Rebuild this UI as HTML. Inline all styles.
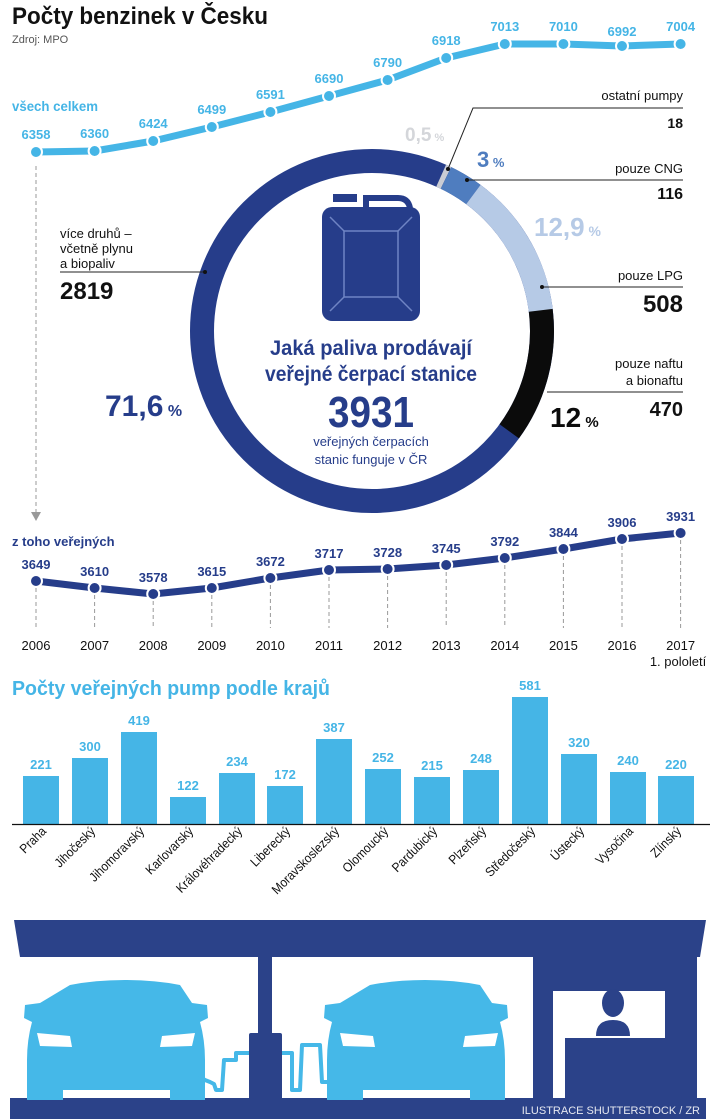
<!DOCTYPE html>
<html><head><meta charset="utf-8"><style>
html,body{margin:0;padding:0;background:#fff;}
svg{display:block;font-family:"Liberation Sans",sans-serif;}
</style></head><body>
<svg width="722" height="1119" viewBox="0 0 722 1119" xmlns="http://www.w3.org/2000/svg">
<rect width="722" height="1119" fill="#fff"/>
<text x="12" y="24" font-size="24" font-weight="bold" fill="#111" textLength="256" lengthAdjust="spacingAndGlyphs">Počty benzinek v Česku</text>
<text x="12" y="43" font-size="11" fill="#555">Zdroj: MPO</text>

<text x="12" y="111" font-size="14" font-weight="bold" fill="#45b5e6" textLength="86" lengthAdjust="spacingAndGlyphs">všech celkem</text>
<polyline points="36,152 94.6,151 153.2,141 211.8,127 270.4,112 329,96 387.6,80 446.2,58 504.8,44 563.4,44 622,46 680.6,44" fill="none" stroke="#45b5e6" stroke-width="7" stroke-linejoin="round"/>
<g fill="#45b5e6" stroke="#fff" stroke-width="2">
<circle cx="36" cy="152" r="6"/><circle cx="94.6" cy="151" r="6"/><circle cx="153.2" cy="141" r="6"/><circle cx="211.8" cy="127" r="6"/><circle cx="270.4" cy="112" r="6"/><circle cx="329" cy="96" r="6"/><circle cx="387.6" cy="80" r="6"/><circle cx="446.2" cy="58" r="6"/><circle cx="504.8" cy="44" r="6"/><circle cx="563.4" cy="44" r="6"/><circle cx="622" cy="46" r="6"/><circle cx="680.6" cy="44" r="6"/>
</g>
<g font-size="13" font-weight="bold" fill="#45b5e6" text-anchor="middle">
<text x="36" y="139">6358</text><text x="94.6" y="138">6360</text><text x="153.2" y="128">6424</text><text x="211.8" y="114">6499</text><text x="270.4" y="99">6591</text><text x="329" y="83">6690</text><text x="387.6" y="67">6790</text><text x="446.2" y="45">6918</text><text x="504.8" y="31">7013</text><text x="563.4" y="31">7010</text><text x="622" y="36">6992</text><text x="680.6" y="31">7004</text>
</g>

<line x1="36" y1="166" x2="36" y2="512" stroke="#999" stroke-width="1" stroke-dasharray="4,3"/>
<polygon points="31,512 41,512 36,521" fill="#999"/>

<circle cx="372" cy="331" r="170" fill="none" stroke="#263d8a" stroke-width="24"/>
<g fill="none" stroke-width="24" transform="rotate(-90 372 331)">
<circle cx="372" cy="331" r="170" stroke="#c9ccd4" stroke-dasharray="5.3 2000" transform="rotate(24 372 331)"/>
<circle cx="372" cy="331" r="170" stroke="#4f7dbf" stroke-dasharray="32 2000" transform="rotate(25.8 372 331)"/>
<circle cx="372" cy="331" r="170" stroke="#b6cae6" stroke-dasharray="138 2000" transform="rotate(36.6 372 331)"/>
<circle cx="372" cy="331" r="170" stroke="#0b0b0b" stroke-dasharray="128 2000" transform="rotate(83 372 331)"/>
</g>

<rect x="333" y="194" width="24" height="8" fill="#263d8a"/>
<path d="M366 213 V198 H398 Q408 198 410 208" fill="none" stroke="#263d8a" stroke-width="6"/>
<rect x="322" y="207" width="98" height="114" rx="10" fill="#263d8a"/>
<g stroke="#6f84c4" stroke-width="1.5" fill="none">
<rect x="344" y="231" width="54" height="66"/>
<line x1="330" y1="217" x2="344" y2="231"/><line x1="412" y1="217" x2="398" y2="231"/>
<line x1="330" y1="311" x2="344" y2="297"/><line x1="412" y1="311" x2="398" y2="297"/>
</g>

<g fill="#263d8a" font-weight="bold" text-anchor="middle">
<text x="371" y="355" font-size="21" textLength="202" lengthAdjust="spacingAndGlyphs">Jaká paliva prodávají</text>
<text x="371" y="381" font-size="21" textLength="212" lengthAdjust="spacingAndGlyphs">veřejné čerpací stanice</text>
<text x="371" y="427" font-size="44" textLength="86" lengthAdjust="spacingAndGlyphs">3931</text>
</g>
<g fill="#263d8a" font-size="13" text-anchor="middle">
<text x="371" y="446">veřejných čerpacích</text>
<text x="371" y="464">stanic funguje v ČR</text>
</g>

<text x="405" y="141" font-size="19" font-weight="bold" fill="#d4d6da">0,5<tspan font-size="11"> %</tspan></text>
<text x="477" y="167" font-size="22" font-weight="bold" fill="#4f7dbf">3<tspan font-size="13"> %</tspan></text>
<text x="534" y="236" font-size="26" font-weight="bold" fill="#b6cae6">12,9<tspan font-size="14"> %</tspan></text>
<text x="105" y="416" font-size="30" font-weight="bold" fill="#263d8a">71,6<tspan font-size="16"> %</tspan></text>
<text x="550" y="427" font-size="28" font-weight="bold" fill="#0b0b0b">12<tspan font-size="15"> %</tspan></text>

<g stroke="#222" stroke-width="1" fill="none">
<polyline points="683,108 473,108 448,169"/>
<line x1="467" y1="180" x2="683" y2="180"/>
<line x1="542" y1="287" x2="683" y2="287"/>
<line x1="547" y1="392" x2="683" y2="392"/>
<line x1="60" y1="272" x2="205" y2="272"/>
</g>
<g fill="#111">
<circle cx="448" cy="169" r="2"/><circle cx="467" cy="180" r="2"/><circle cx="542" cy="287" r="2"/><circle cx="205" cy="272" r="2"/>
</g>
<g font-size="13" fill="#111" text-anchor="end">
<text x="683" y="100">ostatní pumpy</text>
<text x="683" y="173">pouze CNG</text>
<text x="683" y="280">pouze LPG</text>
<text x="683" y="368">pouze naftu</text>
<text x="683" y="385">a bionaftu</text>
</g>
<g font-weight="bold" fill="#111" text-anchor="end">
<text x="683" y="128" font-size="14">18</text>
<text x="683" y="199" font-size="16">116</text>
<text x="683" y="312" font-size="24">508</text>
<text x="683" y="416" font-size="20">470</text>
</g>
<g font-size="13" fill="#111">
<text x="60" y="238">více druhů –</text>
<text x="60" y="253">včetně plynu</text>
<text x="60" y="268">a biopaliv</text>
</g>
<text x="60" y="299" font-size="24" font-weight="bold" fill="#111">2819</text>

<text x="12" y="546" font-size="13" font-weight="bold" fill="#263d8a">z toho veřejných</text>
<g stroke="#999" stroke-width="1" stroke-dasharray="4,3">
<line x1="36" y1="581" x2="36" y2="628"/><line x1="94.6" y1="588" x2="94.6" y2="628"/><line x1="153.2" y1="594" x2="153.2" y2="628"/><line x1="211.8" y1="588" x2="211.8" y2="628"/><line x1="270.4" y1="578" x2="270.4" y2="628"/><line x1="329" y1="570" x2="329" y2="628"/><line x1="387.6" y1="569" x2="387.6" y2="628"/><line x1="446.2" y1="565" x2="446.2" y2="628"/><line x1="504.8" y1="558" x2="504.8" y2="628"/><line x1="563.4" y1="549" x2="563.4" y2="628"/><line x1="622" y1="539" x2="622" y2="628"/><line x1="680.6" y1="533" x2="680.6" y2="628"/>
</g>
<polyline points="36,581 94.6,588 153.2,594 211.8,588 270.4,578 329,570 387.6,569 446.2,565 504.8,558 563.4,549 622,539 680.6,533" fill="none" stroke="#263d8a" stroke-width="7" stroke-linejoin="round"/>
<g fill="#263d8a" stroke="#fff" stroke-width="2">
<circle cx="36" cy="581" r="6"/><circle cx="94.6" cy="588" r="6"/><circle cx="153.2" cy="594" r="6"/><circle cx="211.8" cy="588" r="6"/><circle cx="270.4" cy="578" r="6"/><circle cx="329" cy="570" r="6"/><circle cx="387.6" cy="569" r="6"/><circle cx="446.2" cy="565" r="6"/><circle cx="504.8" cy="558" r="6"/><circle cx="563.4" cy="549" r="6"/><circle cx="622" cy="539" r="6"/><circle cx="680.6" cy="533" r="6"/>
</g>
<g font-size="13" font-weight="bold" fill="#263d8a" text-anchor="middle">
<text x="36" y="569">3649</text><text x="94.6" y="576">3610</text><text x="153.2" y="582">3578</text><text x="211.8" y="576">3615</text><text x="270.4" y="566">3672</text><text x="329" y="558">3717</text><text x="387.6" y="557">3728</text><text x="446.2" y="553">3745</text><text x="504.8" y="546">3792</text><text x="563.4" y="537">3844</text><text x="622" y="527">3906</text><text x="680.6" y="521">3931</text>
</g>
<g font-size="13" fill="#111" text-anchor="middle">
<text x="36" y="650">2006</text><text x="94.6" y="650">2007</text><text x="153.2" y="650">2008</text><text x="211.8" y="650">2009</text><text x="270.4" y="650">2010</text><text x="329" y="650">2011</text><text x="387.6" y="650">2012</text><text x="446.2" y="650">2013</text><text x="504.8" y="650">2014</text><text x="563.4" y="650">2015</text><text x="622" y="650">2016</text><text x="680.6" y="650">2017</text>
<text x="678" y="666">1. pololetí</text>
</g>

<text x="12" y="695" font-size="20" font-weight="bold" fill="#45b5e6" textLength="318" lengthAdjust="spacingAndGlyphs">Počty veřejných pump podle krajů</text>
<g fill="#45b5e6">
<rect x="23" y="776" width="36" height="48"/>
<rect x="72" y="758" width="36" height="66"/>
<rect x="121" y="732" width="36" height="92"/>
<rect x="170" y="797" width="36" height="27"/>
<rect x="219" y="773" width="36" height="51"/>
<rect x="267" y="786" width="36" height="38"/>
<rect x="316" y="739" width="36" height="85"/>
<rect x="365" y="769" width="36" height="55"/>
<rect x="414" y="777" width="36" height="47"/>
<rect x="463" y="770" width="36" height="54"/>
<rect x="512" y="697" width="36" height="127"/>
<rect x="561" y="754" width="36" height="70"/>
<rect x="610" y="772" width="36" height="52"/>
<rect x="658" y="776" width="36" height="48"/>
</g>
<line x1="12" y1="824.5" x2="710" y2="824.5" stroke="#111" stroke-width="1.2"/>
<g font-size="13" font-weight="bold" fill="#45b5e6" text-anchor="middle">
<text x="41" y="769">221</text><text x="90" y="751">300</text><text x="139" y="725">419</text><text x="188" y="790">122</text><text x="237" y="766">234</text><text x="285" y="779">172</text><text x="334" y="732">387</text><text x="383" y="762">252</text><text x="432" y="770">215</text><text x="481" y="763">248</text><text x="530" y="690">581</text><text x="579" y="747">320</text><text x="628" y="765">240</text><text x="676" y="769">220</text>
</g>
<g font-size="13" fill="#111" text-anchor="end">
<text transform="translate(47 832) rotate(-45) scale(0.9 1)">Praha</text>
<text transform="translate(96 832) rotate(-45) scale(0.9 1)">Jihočeský</text>
<text transform="translate(145 832) rotate(-45) scale(0.9 1)">Jihomoravský</text>
<text transform="translate(194 832) rotate(-45) scale(0.9 1)">Karlovarský</text>
<text transform="translate(243 832) rotate(-45) scale(0.9 1)">Královéhradecký</text>
<text transform="translate(291 832) rotate(-45) scale(0.9 1)">Liberecký</text>
<text transform="translate(340 832) rotate(-45) scale(0.9 1)">Moravskoslezský</text>
<text transform="translate(389 832) rotate(-45) scale(0.9 1)">Olomoucký</text>
<text transform="translate(438 832) rotate(-45) scale(0.9 1)">Pardubický</text>
<text transform="translate(487 832) rotate(-45) scale(0.9 1)">Plzeňský</text>
<text transform="translate(536 832) rotate(-45) scale(0.9 1)">Středočeský</text>
<text transform="translate(585 832) rotate(-45) scale(0.9 1)">Ústecký</text>
<text transform="translate(634 832) rotate(-45) scale(0.9 1)">Vysočina</text>
<text transform="translate(682 832) rotate(-45) scale(0.9 1)">Zlínský</text>
</g>

<g fill="#2b4289">
<polygon points="14,920 706,920 700,957 20,957"/>
<rect x="258" y="957" width="14" height="145"/>
<rect x="249" y="1033" width="33" height="70" rx="2"/>
<rect x="533" y="957" width="164" height="145"/>
<rect x="10" y="1098" width="696" height="21"/>
</g>
<rect x="553" y="991" width="112" height="47" fill="#fff"/>
<rect x="553" y="991" width="12" height="107" fill="#fff"/>
<ellipse cx="613" cy="1003" rx="11" ry="14" fill="#2b4289"/>
<path d="M596 1036 Q596 1020 613 1020 Q630 1020 630 1036 Z" fill="#2b4289"/>
<g fill="#45b8e8">
<path d="M70 985 Q95 980 125 980 Q155 980 180 985 L192 1003 L207 1005 L208 1018 L200 1022 Q205 1040 205 1060 L205 1100 L170 1100 L170 1090 L63 1090 L63 1100 L27 1100 L27 1060 Q27 1040 32 1022 L24 1018 L25 1005 L40 1003 Z"/>
<path d="M370 985 Q395 980 425 980 Q455 980 480 985 L492 1003 L507 1005 L508 1018 L500 1022 Q505 1040 505 1060 L505 1100 L470 1100 L470 1090 L363 1090 L363 1100 L327 1100 L327 1060 Q327 1040 332 1022 L324 1018 L325 1005 L340 1003 Z"/>
</g>
<g fill="#fff">
<path d="M37 1033 L70 1036 L72 1047 L40 1046 Z"/>
<path d="M195 1033 L162 1036 L160 1047 L192 1046 Z"/>
<path d="M340 1033 L373 1036 L375 1047 L343 1046 Z"/>
<path d="M498 1033 L465 1036 L463 1047 L495 1046 Z"/>
</g>
<g fill="none" stroke="#45b8e8" stroke-width="4" stroke-linejoin="round">
<polyline points="200,1075 202,1078 205,1080 210,1082 214,1084 216,1090 222,1090 224,1060 236,1060 236,1053 249,1053"/>
<polyline points="282,1053 292,1053 292,1090 300,1090 302,1045 320,1045 322,1082 327,1082"/>
</g>
<text x="700" y="1114" font-size="11" fill="#e6e8f0" text-anchor="end">ILUSTRACE SHUTTERSTOCK / ZR</text>
</svg>
</body></html>
